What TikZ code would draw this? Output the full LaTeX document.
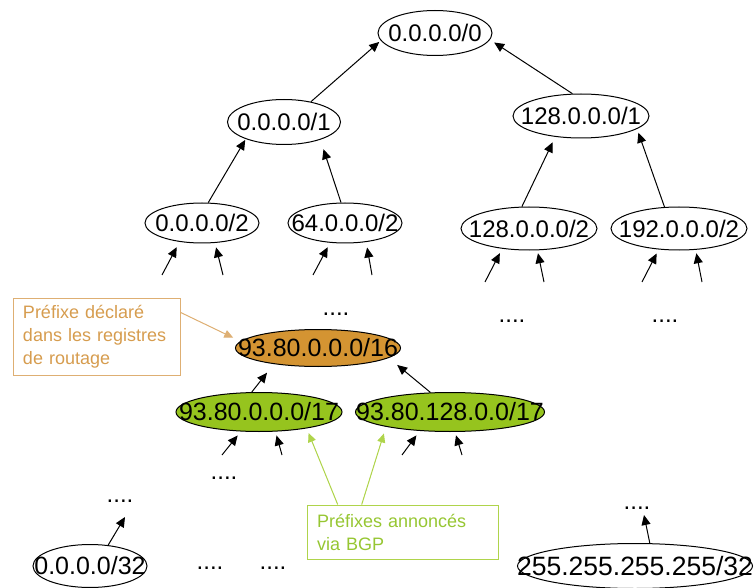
\documentclass[tikz,border=0pt]{standalone}
\usepackage{fontspec}
\setmainfont{Liberation Sans}
\usetikzlibrary{shapes.geometric,arrows.meta}
\definecolor{orfill}{RGB}{212,148,50}
\definecolor{grfill}{RGB}{150,196,30}
\definecolor{ortext}{RGB}{214,156,78}
\definecolor{orline}{RGB}{222,175,115}
\definecolor{grtext}{RGB}{150,198,50}
\definecolor{grline}{RGB}{175,212,75}
\newcommand\pfxt[1]{\makebox[0pt]{#1}}
\begin{document}
\begin{tikzpicture}[x=1pt,y=-1pt,
  pfx/.style={ellipse, draw=black, line width=1pt, inner sep=0pt, text=black},
  fa/.style={font=\fontsize{24}{24}\selectfont},
  fb/.style={font=\fontsize{25}{25}\selectfont},
  arr/.style={-{Triangle[length=10pt,width=9pt]}, line width=1pt, black},
  oarr/.style={-{Triangle[length=9pt,width=8pt]}, line width=1pt, draw=orline, fill=orline},
  garr/.style={-{Triangle[length=9pt,width=8pt]}, line width=1pt, draw=grline, fill=grline},
  dots/.style={inner sep=0pt, font=\fontsize{24}{24}\selectfont},
  callout/.style={draw, line width=1pt, inner xsep=10pt, inner ysep=0pt, align=left, font=\fontsize{18}{23}\selectfont}
]
\useasboundingbox (0,0) rectangle (755,588);

% tree nodes
\node[pfx, fa, minimum width=114pt, minimum height=45pt] (r)  at (435,33)  {\pfxt{0.0.0.0/0}};
\node[pfx, fa, minimum width=113pt, minimum height=45pt] (a1) at (284,122) {\pfxt{0.0.0.0/1}};
\node[pfx, fa, minimum width=136pt, minimum height=44pt] (b1) at (581,116) {\pfxt{128.0.0.0/1}};
\node[pfx, fa, minimum width=114pt, minimum height=40pt] (a2) at (202,223) {\pfxt{0.0.0.0/2}};
\node[pfx, fa, minimum width=114pt, minimum height=40pt] (b2) at (345,223) {\pfxt{64.0.0.0/2}};
\node[pfx, fa, minimum width=136pt, minimum height=43pt] (c2) at (529,228.5) {\pfxt{128.0.0.0/2}};
\node[pfx, fa, minimum width=136pt, minimum height=43pt] (d2) at (679,228.5) {\pfxt{192.0.0.0/2}};
\node[pfx, fb, fill=orfill, minimum width=165pt, minimum height=37pt] (o16) at (318,348) {\pfxt{93.80.0.0.0/16}};
\node[pfx, fb, fill=grfill, minimum width=166pt, minimum height=39pt] (g1) at (259,412) {\pfxt{93.80.0.0.0/17}};
\node[pfx, fb, fill=grfill, minimum width=189pt, minimum height=39pt] (g2) at (450,412) {\pfxt{93.80.128.0.0/17}};
\node[pfx, fb, minimum width=114pt, minimum height=43pt] (z32) at (90,566) {\pfxt{0.0.0.0/32}};
\node[pfx, font=\fontsize{26.5}{26.5}\selectfont, minimum width=235pt, minimum height=45pt] (f32) at (635,566) {\pfxt{255.255.255.255/32}};

% dots
\node[dots] (da) at (336,314) {....};
\node[dots] (db) at (512,321) {....};
\node[dots] (dc) at (665,321) {....};
\node[dots] (dd) at (224,478) {....};
\node[dots] (de) at (120,501) {....};
\node[dots] (df) at (637,508) {....};
\node[dots] (dg) at (210,568) {....};
\node[dots] (dh) at (273,568) {....};

% callouts
\node[callout, draw=orline, text=ortext, text width=147pt, minimum height=77pt] (obox) at (96.5,336.5)
  {Préfixe déclaré\\dans les registres\\de routage};
\node[callout, draw=grline, text=grtext, text width=171pt, minimum height=54pt] (gbox) at (402.5,532)
  {Préfixes annoncés\\via BGP};

% tree connectors
\draw[arr, shorten >=2pt]  (a1.37)  -- (r.188);
\draw[arr, shorten >=5pt]  (b1.111) -- (r.353);
\draw[arr, shorten >=1pt]  (a2.73)  -- (a1.204);
\draw[arr, shorten >=10pt] (b2.101) -- (a1.334);
\draw[arr, shorten >=6pt]  (c2.108) -- (b1.219);
\draw[arr, shorten >=4pt]  (d2.124) -- (b1.347);
\draw[arr, shorten >=11pt] (g1.110) -- (o16.200);
\draw[arr, shorten >=11pt] (g2.135) -- (o16.352);

% stub tails
\coordinate (ta1) at (162,275); \coordinate (ta2) at (223,275);
\coordinate (tb1) at (313,275); \coordinate (tb2) at (372,275);
\coordinate (tc1) at (485,282); \coordinate (tc2) at (544,282);
\coordinate (td1) at (642,282); \coordinate (td2) at (702,282);
\coordinate (tg1) at (222,455); \coordinate (tg2) at (282,455);
\coordinate (th1) at (402,455); \coordinate (th2) at (462,455);
\coordinate (tz) at (125,517);  \coordinate (tf) at (644,515);

\draw[arr, shorten >=6pt] (ta1) -- (a2.220);
\draw[arr, shorten >=4.5pt] (ta2) -- (a2.303);
\draw[arr, shorten >=5pt] (tb1) -- (b2.233);
\draw[arr, shorten >=5.5pt] (tb2) -- (b2.318);
\draw[arr, shorten >=5pt] (tc1) -- (c2.217);
\draw[arr, shorten >=3pt] (tc2) -- (c2.291);
\draw[arr, shorten >=4.5pt] (td1) -- (d2.226);
\draw[arr, shorten >=3.5pt] (td2) -- (d2.308);
\draw[arr, shorten >=5pt] (tg1) -- (g1.227);
\draw[arr, shorten >=4pt] (tg2) -- (g1.310);
\draw[arr, shorten >=5.5pt] (th1) -- (g2.212);
\draw[arr, shorten >=3.5pt] (th2) -- (g2.284);
\draw[arr] (z32.49) -- (tz);
\draw[arr] (f32.57) -- (tf);

% callout connectors
\draw[oarr, shorten >=8pt] (obox.16) -- (o16.175);
\draw[garr, shorten >=5pt] (gbox.157) -- (g1.341);
\draw[garr, shorten >=7pt] (gbox.146) -- (g2.193);
\end{tikzpicture}
\end{document}
